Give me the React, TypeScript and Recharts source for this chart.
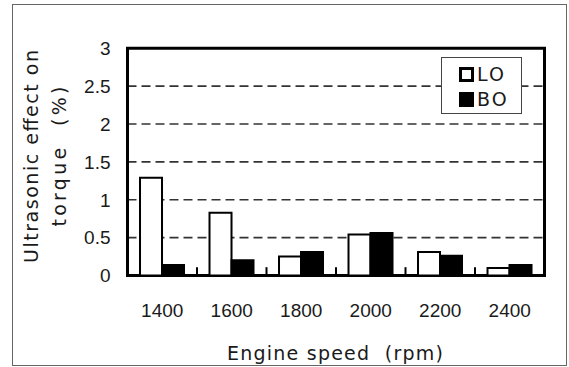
import React from 'react';
import {
  BarChart,
  Bar,
  XAxis,
  YAxis,
  CartesianGrid,
  ReferenceArea,
  ReferenceLine,
  Legend,
  Label,
} from 'recharts';

// ---- data ----
const categories = ['1400', '1600', '1800', '2000', '2200', '2400'];
const loValues = [1.29, 0.83, 0.25, 0.54, 0.31, 0.1];
const boValues = [0.14, 0.2, 0.31, 0.56, 0.26, 0.14];
const yTicks = [0, 0.5, 1, 1.5, 2, 2.5, 3];
const seriesNames = ['LO', 'BO'];
const seriesFills = ['#ffffff', '#000000'];
const xTitle = 'Engine speed  (rpm)';
const yTitleLines = ['Ultrasonic effect on', 'torque  (%)'];

const data = categories.map((c, i) => ({ speed: c, LO: loValues[i], BO: boValues[i] }));
const boundaryCats = categories.slice(1);

// ---- layout ----
const W = 569;
const H = 367;
const PL = 127.5;
const PR = 544.5;
const PT = 48.3;
const PB = 275.5;
const YW = 60;
const XH = 60;

const textColor = '#1a1a1a';
const titleFont = 'DejaVu Sans';
const tickFont = 'Liberation Sans';

const renderXTitle = () => (
  <text
    x={(PL + PR) / 2 - 1}
    y={PB + 84.5}
    textAnchor="middle"
    fontFamily={titleFont}
    fontSize={19}
    fill={textColor}
    textLength={216}
    lengthAdjust="spacing"
    style={{ whiteSpace: 'pre' }}
  >
    {xTitle}
  </text>
);

const renderYTitle = () => {
  const cy = 156.5;
  const xs = [37.5, 66];
  const lens = [213, 140];
  return (
    <g>
      {yTitleLines.map((line, i) => (
        <text
          key={i}
          transform={`translate(${xs[i]}, ${cy}) rotate(-90)`}
          x={0}
          y={0}
          textAnchor="middle"
          fontFamily={titleFont}
          fontSize={19}
          fill={textColor}
          textLength={lens[i]}
          lengthAdjust="spacing"
          style={{ whiteSpace: 'pre' }}
        >
          {line}
        </text>
      ))}
    </g>
  );
};

const renderLegend = (props: any) => {
  const payload = ((props && props.payload) || []).slice();
  payload.sort(
    (a: any, b: any) => seriesNames.indexOf(a.value) - seriesNames.indexOf(b.value)
  );
  return (
    <div
      style={{
        boxSizing: 'border-box',
        width: 81,
        height: 57,
        border: '1px solid #444',
        background: '#fff',
        paddingTop: 9,
        paddingLeft: 17,
      }}
    >
      {payload.map((entry: any, i: number) => {
        const idx = seriesNames.indexOf(entry.value);
        const fill = idx >= 0 ? seriesFills[idx] : entry.color;
        return (
          <div
            key={i}
            style={{
              display: 'flex',
              alignItems: 'center',
              height: 15,
              marginBottom: 10,
            }}
          >
            <div
              style={{
                boxSizing: 'border-box',
                width: 15,
                height: 15,
                border: '3px solid #000',
                background: fill,
                marginRight: 3,
              }}
            />
            <span
              style={{
                fontFamily: titleFont,
                fontSize: 19,
                lineHeight: '15px',
                color: textColor,
                letterSpacing: 2,
              }}
            >
              {entry.value}
            </span>
          </div>
        );
      })}
    </div>
  );
};

export default function App() {
  return (
    <div style={{ position: 'absolute', left: 0, top: 0, width: W, height: H, background: '#fff' }}>
      <div
        style={{
          position: 'absolute',
          left: 12,
          top: 4,
          width: 555,
          height: 362,
          boxSizing: 'border-box',
          border: '1px solid #666',
        }}
      />
      <div style={{ position: 'absolute', left: 0, top: 0 }}>
        <BarChart
          width={W}
          height={H}
          data={data}
          margin={{ top: PT, right: W - PR, bottom: H - PB - XH, left: PL - YW }}
          barCategoryGap="18%"
          barGap={0}
        >
          <CartesianGrid
            vertical={false}
            stroke="#333"
            strokeWidth={1.6}
            strokeDasharray="9 5"
          />
          <XAxis
            dataKey="speed"
            height={XH}
            axisLine={false}
            tickLine={false}
            tickSize={0}
            tickMargin={28}
            interval={0}
            tick={{ fontSize: 19, fill: textColor, fontFamily: tickFont }}
          >
            <Label content={renderXTitle} />
          </XAxis>
          <YAxis
            domain={[0, 3]}
            ticks={yTicks}
            width={YW}
            axisLine={false}
            tickLine={false}
            tickSize={0}
            tickMargin={17}
            interval={0}
            tick={{ fontSize: 19, fill: textColor, fontFamily: tickFont }}
          >
            <Label content={renderYTitle} />
          </YAxis>
          <Legend
            layout="vertical"
            align="center"
            verticalAlign="middle"
            wrapperStyle={{ left: 441, top: 57, width: 81, height: 57 }}
            content={renderLegend}
          />
          <Bar
            dataKey="LO"
            name={seriesNames[0]}
            fill={seriesFills[0]}
            stroke="#000"
            strokeWidth={2}
            isAnimationActive={false}
          />
          <Bar
            dataKey="BO"
            name={seriesNames[1]}
            fill={seriesFills[1]}
            stroke="#000"
            strokeWidth={2}
            isAnimationActive={false}
          />
          {boundaryCats.map((c) => (
            <ReferenceLine
              key={c}
              segment={[
                { x: c, y: 0 },
                { x: c, y: 0.11 },
              ]}
              position="start"
              stroke="#000"
              strokeWidth={2}
              ifOverflow="visible"
            />
          ))}
          <ReferenceArea
            x1={categories[0]}
            x2={categories[categories.length - 1]}
            y1={0}
            y2={3}
            fill="none"
            fillOpacity={0}
            stroke="#000"
            strokeWidth={3}
            ifOverflow="visible"
          />
        </BarChart>
      </div>
    </div>
  );
}
